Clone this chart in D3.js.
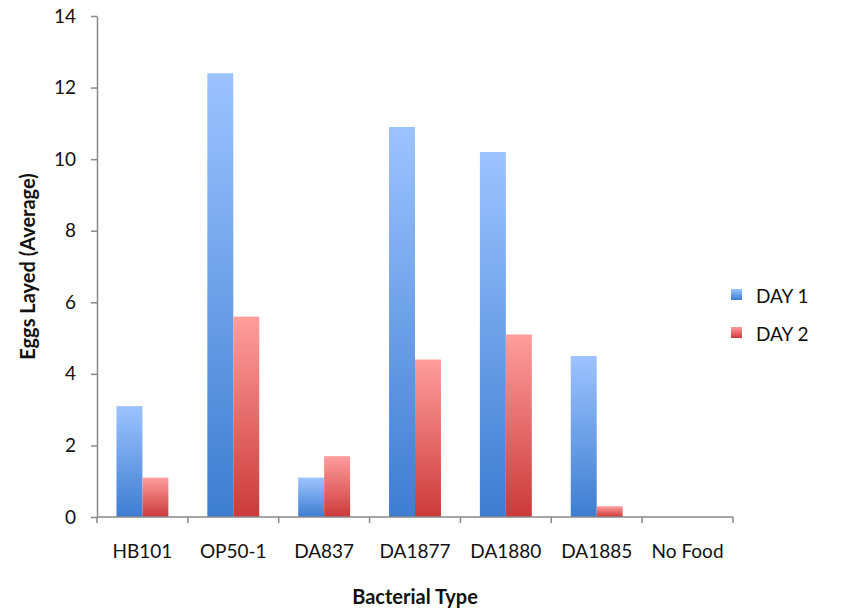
<!DOCTYPE html>
<meta charset="utf-8">
<script src="https://d3js.org/d3.v7.min.js"></script>
<style>
  body { margin: 0; background: #fff; }
  text { font-family: Lato, "Open Sans", sans-serif; fill: #111; }
</style>
<div id="chart"></div>
<script>
// data
const categories = ["HB101", "OP50-1", "DA837", "DA1877", "DA1880", "DA1885", "No Food"];
const series = ["DAY 1", "DAY 2"];
const day1 = [3.1, 12.4, 1.1, 10.9, 10.2, 4.5, 0];
const day2 = [1.1, 5.6, 1.7, 4.4, 5.1, 0.3, 0];
const yTicks = [0, 2, 4, 6, 8, 10, 12, 14];

const W = 841, H = 609;
const margin = { top: 16, right: 108, bottom: 92, left: 97 };
const width = W - margin.left - margin.right,
      height = H - margin.top - margin.bottom;

const svg = d3.select("#chart").append("svg")
  .attr("width", W).attr("height", H);

const defs = svg.append("defs");
const grads = [["blue", "#9dc3ff", "#3d7dd0"], ["red", "#ff9d9d", "#cc3a3a"]];
grads.forEach(function (g) {
  const lg = defs.append("linearGradient").attr("id", "g-" + g[0])
    .attr("x1", 0).attr("y1", 0).attr("x2", 0).attr("y2", 1);
  lg.append("stop").attr("offset", "0%").attr("stop-color", g[1]);
  lg.append("stop").attr("offset", "100%").attr("stop-color", g[2]);
});
const fills = ["url(#g-blue)", "url(#g-red)"];

const g = svg.append("g").attr("transform", `translate(${margin.left},${margin.top})`);

const x = d3.scaleBand().domain(categories).range([0, width]).paddingInner(0).paddingOuter(0);
const xs = d3.scaleBand().domain(series).range([0, x.bandwidth()]).paddingInner(0).paddingOuter(0.75);
const y = d3.scaleLinear().domain([0, 14]).range([height, 0]);

const rows = categories.map(function (c, i) {
  return { cat: c, vals: [day1[i], day2[i]] };
});

// bars
const grp = g.selectAll(".grp").data(rows).join("g")
  .attr("class", "grp")
  .attr("transform", d => `translate(${x(d.cat)},0)`);
grp.selectAll("rect")
  .data(d => d.vals.map((v, k) => ({ s: series[k], v: v, k: k })))
  .join("rect")
  .attr("x", d => xs(d.s))
  .attr("width", xs.bandwidth())
  .attr("y", d => y(d.v))
  .attr("height", d => height - y(d.v))
  .attr("fill", d => fills[d.k]);

// y axis
const yAxis = g.append("g")
  .call(d3.axisLeft(y).tickValues(yTicks).tickSize(6).tickSizeOuter(0).tickPadding(15));
yAxis.select(".domain").attr("stroke", "#888").attr("stroke-width", 1.5);
yAxis.selectAll(".tick line").attr("stroke", "#888").attr("stroke-width", 1.5);
yAxis.selectAll(".tick text").style("font-size", "19px").attr("fill", "#111");

// x axis: ticks at category boundaries
const xAxis = g.append("g").attr("transform", `translate(0,${height})`);
xAxis.append("line").attr("x1", 0).attr("x2", width).attr("stroke", "#888").attr("stroke-width", 1.5);
const bounds = categories.map(c => x(c)).concat([width]);
xAxis.selectAll(".bt").data(bounds).join("line")
  .attr("class", "bt")
  .attr("x1", d => d).attr("x2", d => d)
  .attr("y1", 0).attr("y2", 6)
  .attr("stroke", "#888").attr("stroke-width", 1.5);
xAxis.selectAll(".lab").data(categories).join("text")
  .attr("class", "lab")
  .attr("x", d => x(d) + x.bandwidth() / 2)
  .attr("y", 41)
  .attr("text-anchor", "middle")
  .style("font-size", "19px")
  .text(d => d);

// axis titles
svg.append("text")
  .attr("x", margin.left + width / 2)
  .attr("y", 604)
  .attr("text-anchor", "middle")
  .style("font-size", "20px").style("font-weight", "bold")
  .text("Bacterial Type");
svg.append("text")
  .attr("transform", `translate(35,${margin.top + height / 2}) rotate(-90)`)
  .attr("text-anchor", "middle")
  .style("font-size", "20px").style("font-weight", "bold")
  .text("Eggs Layed (Average)");

// legend
const legend = svg.append("g").attr("transform", "translate(731,289)");
series.forEach(function (s, k) {
  const row = legend.append("g").attr("transform", `translate(0,${k * 38})`);
  row.append("rect").attr("width", 11).attr("height", 11).attr("fill", fills[k]);
  row.append("text").attr("x", 25).attr("y", 14).style("font-size", "19px").text(s);
});
</script>
